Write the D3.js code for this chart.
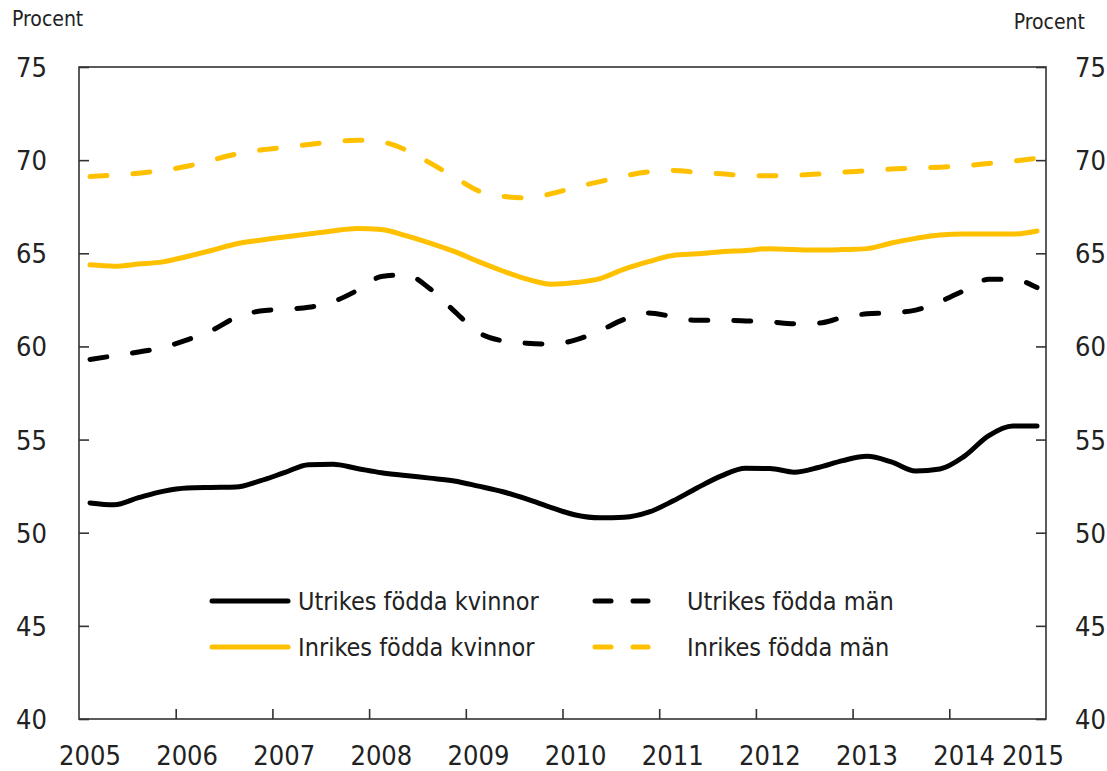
<!DOCTYPE html>
<html>
<head>
<meta charset="utf-8">
<script src="https://cdn.jsdelivr.net/npm/d3@7"></script>
<style>
  html, body { margin: 0; padding: 0; background: #fff; }
  svg text { font-family: "Liberation Sans Narrow", "DejaVu Sans Condensed", "Arial Narrow", "Liberation Sans", sans-serif; fill: #222; }
</style>
</head>
<body>
<svg id="chart" width="1107" height="771"></svg>
<script>
// ---- Data (quarterly, 2005 K1 – 2014 K4), percent ----
const years = [2005, 2006, 2007, 2008, 2009, 2010, 2011, 2012, 2013, 2014, 2015];
const quarters = d3.range(2005, 2015).flatMap(y => [1, 2, 3, 4].map(q => `${y}K${q}`));
const yTicks = [40, 45, 50, 55, 60, 65, 70, 75];
const unitLabel = "Procent";

const seriesNames = ["Utrikes födda kvinnor", "Utrikes födda män", "Inrikes födda kvinnor", "Inrikes födda män"];

const utrikesKvinnor = [51.6,51.5,51.88,52.22,52.4,52.43,52.45,52.78,53.22,53.65,53.67,53.45,53.22,53.07,52.93,52.78,52.5,52.2,51.8,51.35,50.95,50.8,50.83,51.1,51.7,52.4,53.05,53.46,53.45,53.25,53.5,53.87,54.1,53.8,53.31,53.42,54.1,55.2,55.73,55.73];
const utrikesMan = [59.3,59.5,59.7,59.95,60.35,60.85,61.55,61.9,62.0,62.1,62.4,63.0,63.75,63.85,63.1,61.9,60.75,60.3,60.17,60.12,60.35,60.85,61.45,61.8,61.6,61.4,61.4,61.37,61.32,61.22,61.25,61.55,61.75,61.8,61.95,62.4,63.0,63.6,63.6,63.16];
const inrikesKvinnor = [64.38,64.31,64.42,64.54,64.83,65.15,65.5,65.7,65.87,66.03,66.2,66.33,66.28,65.95,65.55,65.1,64.55,64.05,63.61,63.34,63.43,63.64,64.15,64.55,64.88,64.97,65.08,65.15,65.25,65.2,65.17,65.2,65.25,65.55,65.8,65.98,66.03,66.03,66.03,66.2];
const inrikesMan = [69.12,69.2,69.3,69.45,69.67,70.0,70.32,70.54,70.68,70.84,70.98,71.07,70.98,70.55,69.85,69.1,68.35,68.05,67.98,68.2,68.55,68.85,69.15,69.37,69.45,69.35,69.27,69.17,69.16,69.18,69.25,69.35,69.43,69.52,69.57,69.62,69.7,69.82,69.95,70.1];

// ---- Layout ----
const plot = { left: 79, right: 1046, top: 67, bottom: 719 };
const YELLOW = "#FFC000";
const BLACK = "#000000";
const FRAME = "#333333";

const svg = d3.select("#chart");

const yScale = d3.scaleLinear().domain([40, 75]).range([plot.bottom, plot.top]);
const xYear = d3.scaleLinear().domain([2005, 2015]).range([plot.left, plot.right]);
const xQ = d3.scalePoint().domain(quarters).range([90, 1037]);

const series = [
  { name: seriesNames[0], values: utrikesKvinnor, color: BLACK, dashed: false },
  { name: seriesNames[1], values: utrikesMan, color: BLACK, dashed: true },
  { name: seriesNames[2], values: inrikesKvinnor, color: YELLOW, dashed: false },
  { name: seriesNames[3], values: inrikesMan, color: YELLOW, dashed: true }
];

const DASH = "17 26";
const LW = 5;

// ---- Lines ----
const line = d3.line()
  .x((d, i) => xQ(quarters[i]))
  .y(d => yScale(d))
  .curve(d3.curveMonotoneX);

const drawOrder = [series[2], series[3], series[0], series[1]];
svg.append("g").selectAll("path")
  .data(drawOrder)
  .join("path")
  .attr("d", d => line(d.values))
  .attr("fill", "none")
  .attr("stroke", d => d.color)
  .attr("stroke-width", LW)
  .attr("stroke-linecap", "round")
  .attr("stroke-linejoin", "round")
  .attr("stroke-dasharray", d => d.dashed ? DASH : null);

// ---- Frame & axes ----
svg.append("rect")
  .attr("x", plot.left).attr("y", plot.top)
  .attr("width", plot.right - plot.left).attr("height", plot.bottom - plot.top)
  .attr("fill", "none").attr("stroke", FRAME).attr("stroke-width", 1.6);

const TICK = 10;
const FS_TICK = 27;

// left axis
const leftAxis = svg.append("g").attr("transform", `translate(${plot.left},0)`)
  .call(d3.axisLeft(yScale).tickValues(yTicks).tickSize(-TICK).tickPadding(32));
// right axis
const rightAxis = svg.append("g").attr("transform", `translate(${plot.right},0)`)
  .call(d3.axisRight(yScale).tickValues(yTicks).tickSize(-TICK).tickPadding(29));
[leftAxis, rightAxis].forEach(g => {
  g.select(".domain").remove();
  g.selectAll(".tick line").attr("stroke", FRAME).attr("stroke-width", 1.6);
  g.selectAll(".tick text").attr("font-size", FS_TICK).attr("fill", "#222")
    .attr("font-family", null).attr("dy", "0.35em");
});

// bottom axis ticks (inner years only)
const bottomAxis = svg.append("g").attr("transform", `translate(0,${plot.bottom})`)
  .call(d3.axisBottom(xYear).tickValues(years.slice(1, -1)).tickSize(-TICK).tickFormat(""));
bottomAxis.select(".domain").remove();
bottomAxis.selectAll(".tick line").attr("stroke", FRAME).attr("stroke-width", 1.6);

// year labels placed at the first quarter of each year; the final year at the last point
svg.append("g").selectAll("text")
  .data(years)
  .join("text")
  .attr("x", (d, i) => i < years.length - 1 ? xQ(`${d}K1`) : xQ(quarters[quarters.length - 1]) - 4)
  .attr("y", 765)
  .attr("text-anchor", "middle")
  .attr("font-size", FS_TICK)
  .text(d => d);

// unit labels
svg.append("text").attr("x", 12).attr("y", 26).attr("font-size", 21).text(unitLabel);
svg.append("text").attr("x", 1085).attr("y", 29).attr("text-anchor", "end").attr("font-size", 21).text(unitLabel);

// ---- Legend ----
const legendItems = [
  { s: series[0], lx: 210, ly: 601 },
  { s: series[1], lx: 593, ly: 601 },
  { s: series[2], lx: 210, ly: 647 },
  { s: series[3], lx: 593, ly: 647 }
];
const lg = svg.append("g");
legendItems.forEach(it => {
  const solid = !it.s.dashed;
  const x2 = solid ? it.lx + 80 : it.lx + 57;
  lg.append("line")
    .attr("x1", it.lx + 2).attr("x2", x2 - 2)
    .attr("y1", it.ly).attr("y2", it.ly)
    .attr("stroke", it.s.color).attr("stroke-width", LW)
    .attr("stroke-linecap", "round")
    .attr("stroke-dasharray", solid ? null : "16 22");
  lg.append("text")
    .attr("x", solid ? it.lx + 88 : it.lx + 94)
    .attr("y", it.ly + 9)
    .attr("font-size", 25)
    .text(it.s.name);
});
</script>
</body>
</html>
